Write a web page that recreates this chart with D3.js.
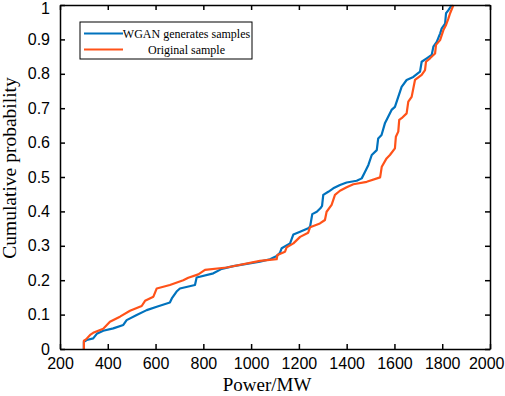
<!DOCTYPE html>
<html><head><meta charset="utf-8">
<script src="https://cdn.jsdelivr.net/npm/d3@7"></script>
<style>body{margin:0;background:#fff}svg{display:block}</style>
</head><body>
<svg id="c" width="505" height="396"></svg>
<script>
const seriesNames = ["WGAN generates samples", "Original sample"];
const seriesColors = ["#0072BD", "#FF5219"];
const xTicks = [200,400,600,800,1000,1200,1400,1600,1800,2000];
const yTicks = [0,0.1,0.2,0.3,0.4,0.5,0.6,0.7,0.8,0.9,1];
const yTickLabels = ["0","0.1","0.2","0.3","0.4","0.5","0.6","0.7","0.8","0.9","1"];
const wganPower = [300,300,312,339,354,381,423,465,479,521,563,605,660,668,688,702,765,772,842,877,926,1037,1079,1107,1121,1128,1163,1177,1205,1239,1247,1256,1275,1290,1297,1302,1323,1344,1372,1400,1442,1463,1477,1491,1505,1526,1532,1546,1560,1567,1588,1602,1616,1630,1651,1679,1707,1714,1735,1756,1763,1777,1791,1798,1812,1816,1826,1840];
const wganProb = [0,0.021,0.026,0.031,0.044,0.053,0.06,0.07,0.084,0.099,0.113,0.123,0.135,0.147,0.167,0.176,0.186,0.208,0.22,0.233,0.241,0.254,0.261,0.27,0.28,0.293,0.307,0.333,0.341,0.351,0.356,0.392,0.399,0.409,0.416,0.448,0.457,0.467,0.477,0.484,0.489,0.496,0.515,0.535,0.564,0.578,0.612,0.622,0.656,0.666,0.695,0.704,0.733,0.762,0.782,0.791,0.806,0.835,0.845,0.855,0.879,0.893,0.917,0.932,0.946,0.976,0.985,1.0];
const origPower = [300,300,309,326,339,381,409,451,493,542,556,591,605,660,716,737,779,807,898,1037,1107,1110,1142,1149,1177,1205,1239,1247,1288,1309,1316,1337,1351,1372,1400,1428,1484,1540,1547,1567,1581,1602,1606,1616,1620,1630,1651,1658,1672,1686,1714,1728,1732,1749,1770,1774,1791,1805,1816,1826,1833,1847];
const origProb = [0,0.024,0.028,0.041,0.047,0.059,0.079,0.094,0.111,0.125,0.14,0.152,0.176,0.186,0.2,0.207,0.217,0.23,0.237,0.256,0.261,0.273,0.283,0.296,0.307,0.326,0.338,0.354,0.365,0.375,0.399,0.419,0.448,0.46,0.47,0.479,0.486,0.499,0.53,0.554,0.564,0.583,0.617,0.632,0.666,0.671,0.685,0.719,0.733,0.782,0.797,0.811,0.835,0.845,0.859,0.884,0.898,0.927,0.942,0.961,0.976,1.0];

const L=60,R=490,T=5,B=349;
const svg=d3.select("#c");
const x=d3.scaleLinear().domain([200,2000]).range([L,R]);
const y=d3.scaleLinear().domain([0,1]).range([B,T]);

const series=[d3.zip(wganPower,wganProb), d3.zip(origPower,origProb)];
const line=d3.line().x(d=>x(d[0])).y(d=>y(d[1]));
const g=svg.append("g");
series.forEach((s,i)=>{
  g.append("path").attr("d",line(s)).attr("fill","none")
   .attr("stroke",seriesColors[i]).attr("stroke-width",2.2).attr("stroke-linejoin","round");
});

const tl=5;
const fontSans="'Liberation Sans', Arial, sans-serif";
const fontSerif="'Liberation Serif', 'Times New Roman', serif";
const xb=svg.append("g").attr("transform",`translate(0,${B})`)
  .call(d3.axisBottom(x).tickValues(xTicks).tickSizeInner(-tl).tickSizeOuter(0).tickPadding(4).tickFormat(d3.format("d")));
const xt=svg.append("g").attr("transform",`translate(0,${T})`)
  .call(d3.axisTop(x).tickValues(xTicks).tickSizeInner(-tl).tickSizeOuter(0).tickFormat(""));
const yl=svg.append("g").attr("transform",`translate(${L},0)`)
  .call(d3.axisLeft(y).tickValues(yTicks).tickSizeInner(-tl).tickSizeOuter(0).tickPadding(10).tickFormat((d,i)=>yTickLabels[i]));
const yr=svg.append("g").attr("transform",`translate(${R},0)`)
  .call(d3.axisRight(y).tickValues(yTicks).tickSizeInner(-tl).tickSizeOuter(0).tickFormat(""));
[xb,xt,yl,yr].forEach(a=>{
  a.selectAll(".domain").attr("stroke","#000").attr("stroke-width",1.5);
  a.selectAll(".tick line").attr("stroke","#000").attr("stroke-width",1.5);
  a.selectAll("text").attr("font-family",fontSans).attr("font-size",16).attr("fill","#000");
});
xb.selectAll("text").attr("dy",0).attr("y",20);
// keep the edge labels inside the picture
xb.selectAll(".tick").filter(d=>d===2000).select("text").attr("text-anchor","end").attr("x",504-R);
yl.selectAll(".tick").filter(d=>d===1).select("text").attr("y",3);

svg.append("text").attr("x",267).attr("y",391).attr("text-anchor","middle")
  .attr("font-family",fontSerif).attr("font-size",19).text("Power/MW");
svg.append("text").attr("transform",`translate(16,168) rotate(-90)`).attr("text-anchor","middle")
  .attr("font-family",fontSerif).attr("font-size",19.5).text("Cumulative probability");

// legend
const lg=svg.append("g");
lg.append("rect").attr("x",80).attr("y",22).attr("width",172).attr("height",37)
  .attr("fill","#fff").attr("stroke","#000").attr("stroke-width",1);
seriesNames.forEach((n,i)=>{
  const yy=33.5+i*16;
  lg.append("line").attr("x1",84).attr("x2",123).attr("y1",yy).attr("y2",yy)
    .attr("stroke",seriesColors[i]).attr("stroke-width",2);
  lg.append("text").attr("x",186.5).attr("y",yy+4).attr("text-anchor","middle")
    .attr("font-family",fontSerif).attr("font-size",12).text(n);
});
</script>
</body></html>
